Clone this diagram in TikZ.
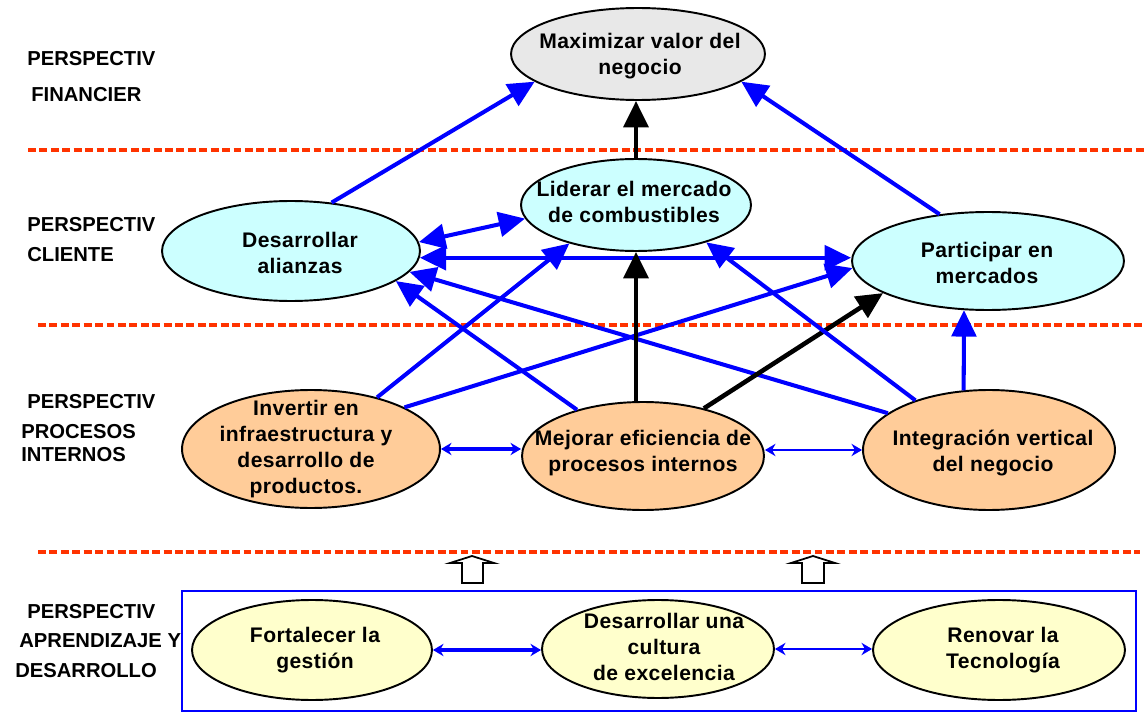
\documentclass[tikz,border=0pt]{standalone}
\usepackage{fontspec}
\setmainfont{Liberation Sans}
\newfontfamily\nodefont[LetterSpace=2]{Liberation Sans}
\usetikzlibrary{shapes.geometric,arrows.meta}

\definecolor{sepred}{HTML}{FF3300}
\definecolor{finfill}{HTML}{E8E8E8}
\definecolor{clifill}{HTML}{CCFFFF}
\definecolor{profill}{HTML}{FFCC99}
\definecolor{aprfill}{HTML}{FFFFCC}

\tikzset{
  goal/.style={draw=black, line width=1.1pt, ellipse, inner sep=0pt},
  goaltext/.style={font=\nodefont\bfseries\fontsize{12}{14.7}\selectfont, align=center, inner sep=0pt},
  persp/.style={font=\bfseries\fontsize{11.5}{13}\selectfont, anchor=west, inner sep=0pt},
  sepline/.style={draw=sepred, line width=1.9pt, dash pattern=on 4.5pt off 2pt},
  link/.style={draw=blue, line width=2.3pt, -{Triangle[length=15pt,width=14pt]}},
  keylink/.style={draw=black, line width=2.6pt, -{Triangle[length=15pt,width=14pt]}},
  biglink/.style={draw=blue, line width=2.3pt, {Triangle[length=15pt,width=14pt]}-{Triangle[length=15pt,width=14pt]}},
  pairlink/.style={draw=blue, line width=#1, {Stealth[length=6pt,width=7pt]}-{Stealth[length=6pt,width=7pt]}},
  hollowup/.style={draw=black, line width=1pt, fill=white, line join=miter},
}

\begin{document}
\begin{tikzpicture}[x=0.02cm, y=-0.02cm]
\useasboundingbox (0,0) rectangle (1144,713);

% perspective separators
\draw[sepline] (28,150) -- (1144,150);
\draw[sepline] (38,325) -- (1144,325);
\draw[sepline] (38,552) -- (1140,552);

% learning & growth frame
\draw[blue, line width=1.2pt] (182,591) rectangle (1136,711);

% perspective titles
\node[persp] (p1a) at (27,59)  {PERSPECTIV};
\node[persp] (p1b) at (31,95)  {FINANCIER};
\node[persp] (p2a) at (27,225) {PERSPECTIV};
\node[persp] (p2b) at (27,255) {CLIENTE};
\node[persp] (p3a) at (27,402) {PERSPECTIV};
\node[persp] (p3b) at (21,432) {PROCESOS};
\node[persp] (p3c) at (21,455) {INTERNOS};
\node[persp] (p4a) at (27,612) {PERSPECTIV};
\node[persp] (p4b) at (19,641) {APRENDIZAJE Y};
\node[persp] (p4c) at (15,671) {DESARROLLO};

% objectives
\node[goal, fill=finfill, minimum width=5.08cm, minimum height=1.84cm] (max) at (638,54) {};
\node[goal, fill=clifill, minimum width=4.60cm, minimum height=1.84cm] (lid) at (636,205) {};
\node[goal, fill=clifill, minimum width=5.16cm, minimum height=2.00cm] (ali) at (291,251) {};
\node[goal, fill=clifill, minimum width=5.44cm, minimum height=1.96cm] (par) at (988,261) {};
\node[goal, fill=profill, minimum width=5.16cm, minimum height=2.36cm] (inv) at (311,449) {};
\node[goal, fill=profill, minimum width=4.84cm, minimum height=2.16cm] (mej) at (643,456) {};
\node[goal, fill=profill, minimum width=5.04cm, minimum height=2.40cm] (int) at (989,450) {};
\node[goal, fill=aprfill, minimum width=4.80cm, minimum height=2.00cm] (fort) at (312,650) {};
\node[goal, fill=aprfill, minimum width=4.64cm, minimum height=1.96cm] (cul) at (658,649) {};
\node[goal, fill=aprfill, minimum width=5.04cm, minimum height=2.00cm] (ren) at (999,650) {};

\node[goaltext] (max-t)  at (640,56)  {Maximizar valor del\\negocio};
\node[goaltext] (lid-t)  at (634,202) {Liderar el mercado\\de combustibles};
\node[goaltext] (ali-t)  at (300,253) {Desarrollar\\alianzas};
\node[goaltext] (par-t)  at (987,263) {Participar en\\mercados};
\node[goaltext] (inv-t)  at (306,449) {Invertir en\\infraestructura y\\desarrollo de\\productos.};
\node[goaltext] (mej-t)  at (643,453) {Mejorar eficiencia de\\procesos internos};
\node[goaltext] (int-t)  at (993,453) {Integración vertical\\del negocio};
\node[goaltext] (fort-t) at (315,650) {Fortalecer la\\gestión};
\node[goaltext] (cul-t)  at (664,647) {Desarrollar una\\cultura\\de excelencia};
\node[goaltext] (ren-t)  at (1003,650) {Renovar la\\Tecnología};

% customer -> financial
\draw[link] (ali.50) -- (max.195);
\draw[link] (par.136) -- (max.345);
\draw[keylink] (lid.north) -- (lid.north |- max.south);

% customer links
\draw[biglink] (ali.4) -- (lid.187);
\draw[biglink] (ali.-3) -- (ali.-3 -| par.west);

% internal processes -> customer
\draw[link] (mej.145) -- (ali.344);
\draw[link] (int.160) -- (ali.350);
\draw[link] (inv.38) -- (lid.210);
\draw[link] (inv.24) -- (par.183);
\draw[keylink] (lid.south |- mej.north) -- (lid.south);
\draw[keylink] (mej.38) -- (par.197);
\draw[link] (int.146) -- (lid.332);
\draw[link] (int.113) -- (par.244);

% links inside the internal processes
\draw[pairlink=2.2pt] (inv.east) -- (inv.east -| mej.west);
\draw[pairlink=1.4pt] (int.west -| mej.east) -- (int.west);

% links inside learning & growth
\draw[pairlink=2.4pt] (fort.east) -- (fort.east -| cul.west);
\draw[pairlink=1.5pt] (cul.east) -- (cul.east -| ren.west);

% hollow arrows from learning & growth
\draw[hollowup] (462,583) -- (462,563) -- (450,563) -- (472,556) -- (494,563)
  -- (483,563) -- (483,583) -- cycle;
\draw[hollowup] (802,583) -- (802,563) -- (791,563) -- (813,556) -- (835,563)
  -- (824,563) -- (824,583) -- cycle;
\end{tikzpicture}
\end{document}
